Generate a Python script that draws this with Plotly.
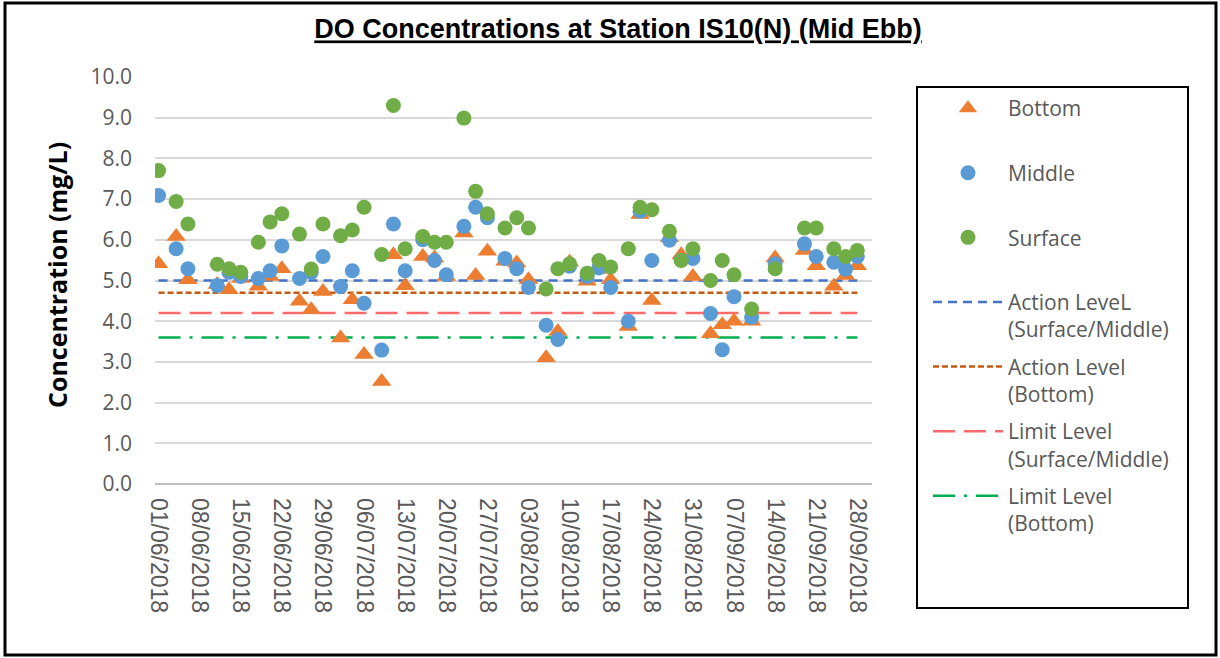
import plotly.graph_objects as go

dates = ["2018-06-01", "2018-06-04", "2018-06-06", "2018-06-11", "2018-06-13", "2018-06-15",
         "2018-06-18", "2018-06-20", "2018-06-22", "2018-06-25", "2018-06-27", "2018-06-29",
         "2018-07-02", "2018-07-04", "2018-07-06", "2018-07-09", "2018-07-11", "2018-07-13",
         "2018-07-16", "2018-07-18", "2018-07-20", "2018-07-23", "2018-07-25", "2018-07-27",
         "2018-07-30", "2018-08-01", "2018-08-03", "2018-08-06", "2018-08-08", "2018-08-10",
         "2018-08-13", "2018-08-15", "2018-08-17", "2018-08-20", "2018-08-22", "2018-08-24",
         "2018-08-27", "2018-08-29", "2018-08-31", "2018-09-03", "2018-09-05", "2018-09-07",
         "2018-09-10", "2018-09-14", "2018-09-19", "2018-09-21", "2018-09-24", "2018-09-26",
         "2018-09-28"]

bottom = [5.41, 6.08, 5.02, 4.90, 4.77, 5.05, 4.86, 5.10, 5.29, 4.49, 4.28, 4.73,
          3.59, 4.53, 3.18, 2.52, 5.63, 4.87, 5.59, 5.55, 5.10, 6.17, 5.12, 5.72,
          5.47, 5.43, 5.02, 3.10, 3.75, 5.45, 4.98, 5.27, 5.02, 3.87, 6.62, 4.51,
          6.05, 5.63, 5.10, 3.69, 3.91, 4.00, 4.00, 5.55, 5.74, 5.36, 4.86, 5.12,
          5.36]

middle = [7.09, 5.78, 5.29, 4.88, 5.20, 5.10, 5.05, 5.24, 5.85, 5.05, 5.20, 5.59,
          4.85, 5.24, 4.44, 3.29, 6.39, 5.24, 6.00, 5.49, 5.14, 6.33, 6.80, 6.54,
          5.54, 5.29, 4.83, 3.90, 3.55, 5.35, 5.10, 5.31, 4.83, 4.00, 6.70, 5.49,
          5.99, 5.50, 5.54, 4.19, 3.30, 4.60, 4.10, 5.41, 5.90, 5.59, 5.45, 5.28,
          5.59]

surface = [7.70, 6.94, 6.39, 5.40, 5.29, 5.20, 5.94, 6.44, 6.64, 6.14, 5.28, 6.39,
           6.10, 6.24, 6.80, 5.64, 9.30, 5.78, 6.08, 5.94, 5.94, 8.99, 7.19, 6.64,
           6.29, 6.54, 6.29, 4.79, 5.29, 5.41, 5.18, 5.49, 5.33, 5.78, 6.80, 6.74,
           6.21, 5.49, 5.78, 5.00, 5.49, 5.14, 4.30, 5.29, 6.29, 6.29, 5.78, 5.59,
           5.74]

level_names = ["Action LeveL<br>(Surface/Middle)", "Action Level<br>(Bottom)",
               "Limit Level<br>(Surface/Middle)", "Limit Level<br>(Bottom)"]
level_values = [5.0, 4.7, 4.2, 3.6]
level_colors = ["#4472C4", "#C55A11", "#FF6B6B", "#00B050"]
level_dashes = ["9px,6px", "6px,3px", "22px,9px", "22px,9px,3px,9px"]

tick_font = "Open Sans, Liberation Sans, Arial, sans-serif"
gray = "#595959"
blank = "<br>\u00a0"

fig = go.Figure()

series = [("Bottom", bottom, "triangle-up", "#ED7D31", 17),
          ("Middle", middle, "circle", "#5B9BD5", 15),
          ("Surface", surface, "circle", "#70AD47", 15)]
for name, vals, sym, col, size in series:
    fig.add_trace(go.Scatter(
        x=dates, y=vals, mode="markers", name=name + blank, legendgroup=name,
        marker=dict(symbol=sym, size=size, color=col, line=dict(width=0)),
        zorder=2))

for name, val, col, dash in zip(level_names, level_values, level_colors, level_dashes):
    fig.add_trace(go.Scatter(
        x=[dates[0], dates[-1]], y=[val, val], mode="lines", name=name, legendgroup=name,
        line=dict(color=col, width=2.5, dash=dash), zorder=1))

L, R, T, B = 155, 348, 77, 174
W, H = 1220, 658
pw, ph = W - L - R, H - T - B


def px(xp):
    return (xp - L) / pw


def py(yp):
    return (H - B - yp) / ph


fig.update_layout(
    width=W, height=H,
    margin=dict(l=L, r=R, t=T, b=B, autoexpand=False),
    paper_bgcolor="white", plot_bgcolor="white",
    title=dict(text="<b><u>DO Concentrations at Station IS10(N) (Mid Ebb)</u></b>",
               x=618 / W, xanchor="center", y=1 - 29 / H, yanchor="middle",
               font=dict(family="Liberation Sans Narrow, Arial Narrow, Liberation Sans, Arial",
                         size=27, color="black")),
    showlegend=True,
    legend=dict(x=px(928), xanchor="left", y=py(88), yanchor="top",
                traceorder="grouped", tracegroupgap=7, valign="top",
                itemwidth=70, bgcolor="rgba(0,0,0,0)", borderwidth=0, maxheight=600,
                font=dict(family=tick_font, size=21, color=gray)),
    xaxis=dict(type="date", range=["2018-05-31 09:30", "2018-09-30 12:00"],
               tick0="2018-06-01", dtick=7 * 86400000, tickformat="%d/%m/%Y",
               tickangle=90, showgrid=False, zeroline=False, showline=False,
               ticks="", ticklabelstandoff=13,
               tickfont=dict(family="Liberation Sans, Arial, sans-serif", size=23, color=gray)),
    yaxis=dict(range=[0, 10], dtick=1, tickformat=".1f", showgrid=True,
               gridcolor="#D9D9D9", gridwidth=1.5, zeroline=True, zerolinecolor="#BFBFBF",
               zerolinewidth=2, showline=False, ticks="", ticklabelstandoff=22,
               tickfont=dict(family=tick_font, size=21, color=gray)),
    annotations=[dict(text="<b>Concentration (mg/L)</b>", textangle=-90,
                      xref="paper", yref="paper", x=px(57), y=py(275),
                      xanchor="center", yanchor="middle", showarrow=False,
                      font=dict(family=tick_font, size=25, color="black"))],
    shapes=[
        dict(type="rect", xref="paper", yref="paper", x0=px(917), x1=px(1188),
             y0=py(608), y1=py(87), line=dict(color="black", width=2)),
        dict(type="rect", xref="paper", yref="paper", x0=px(5), x1=px(1216),
             y0=py(655), y1=py(3), line=dict(color="black", width=3)),
    ],
)

fig.write_html("out.html", config={"displayModeBar": False},
               post_script="document.body.style.margin='0';document.body.style.overflow='hidden';")
